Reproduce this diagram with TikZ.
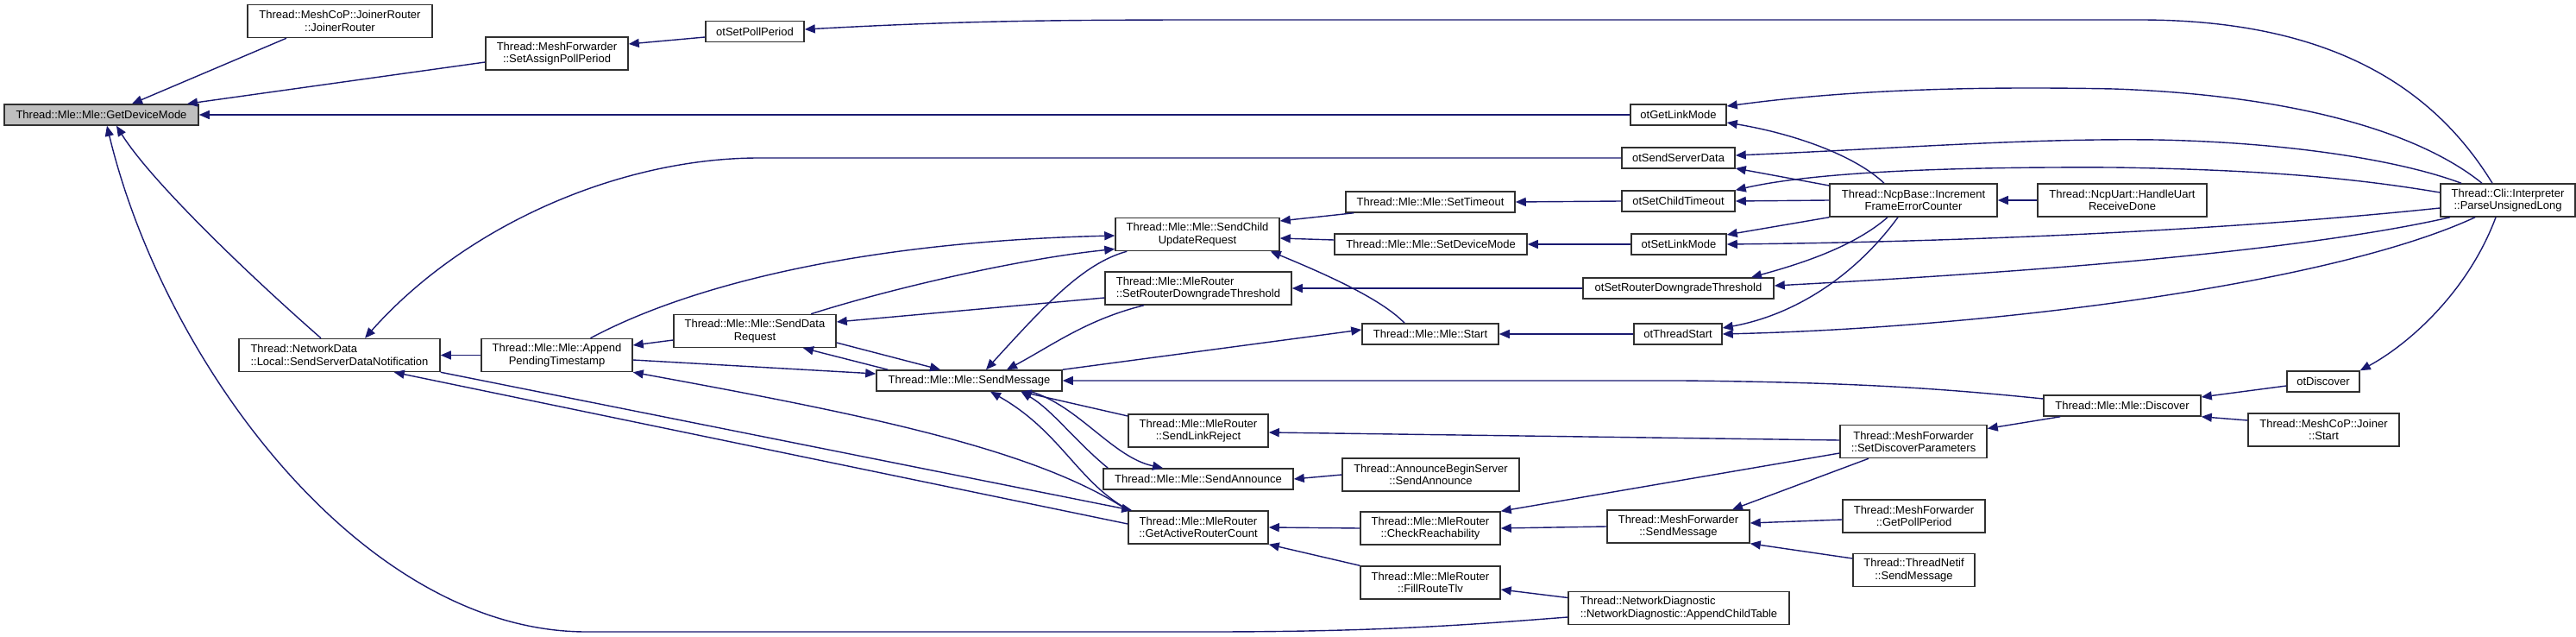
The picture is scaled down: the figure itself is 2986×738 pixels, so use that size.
\documentclass[tikz,border=0pt]{standalone}
\usepackage{fontspec}
\setmainfont{Liberation Sans}
\usetikzlibrary{arrows.meta}
\definecolor{edgec}{HTML}{191970}
\definecolor{boxc}{HTML}{303030}
\definecolor{gdmfill}{HTML}{BFBFBF}
\begin{document}
\begin{tikzpicture}[x=1pt,y=-1pt,
  >={Triangle[length=12pt,width=10pt]},
  box/.style={draw=boxc,line width=1.5pt,fill=white,inner sep=0pt,align=center,
    font=\fontsize{13}{14.3}\selectfont},
  sgl/.style={box,minimum height=24pt},
  dbl/.style={box,minimum height=38pt},
  edge/.style={draw=edgec,line width=1.4pt,<-}]
\useasboundingbox (0,0) rectangle (2986,738);

% nodes
\node[sgl,fill=gdmfill,minimum width=225pt] (gdm) at (117.5,133) {Thread::Mle::Mle::GetDeviceMode};
\node[dbl,minimum width=214pt] (jr) at (394,24.5) {Thread::MeshCoP::JoinerRouter\\::JoinerRouter};
\node[dbl,minimum width=165pt] (sapp) at (645.5,62) {Thread::MeshForwarder\\::SetAssignPollPeriod};
\node[sgl,minimum width=114pt] (ospp) at (875,36.5) {otSetPollPeriod};
\node[dbl,minimum width=233pt,align=left] (ssdn) at (393.5,411.5) {Thread::NetworkData\\::Local::SendServerDataNotification};
\node[dbl,minimum width=175pt] (apt) at (645.5,411.5) {Thread::Mle::Mle::Append\\PendingTimestamp};
\node[dbl,minimum width=188pt] (sdr) at (875,383.5) {Thread::Mle::Mle::SendData\\Request};
\node[dbl,minimum width=190pt] (scur) at (1388,271.5) {Thread::Mle::Mle::SendChild\\UpdateRequest};
\node[dbl,minimum width=216pt,align=left] (srdt) at (1389,334) {Thread::Mle::MleRouter\\::SetRouterDowngradeThreshold};
\node[sgl,minimum width=215pt] (sm) at (1123.5,441) {Thread::Mle::Mle::SendMessage};
\node[sgl,minimum width=196pt] (st) at (1658,234) {Thread::Mle::Mle::SetTimeout};
\node[sgl,minimum width=223pt] (sdm) at (1658.5,283) {Thread::Mle::Mle::SetDeviceMode};
\node[sgl,minimum width=158pt] (start) at (1658,387) {Thread::Mle::Mle::Start};
\node[dbl,minimum width=162pt] (slr) at (1389,499) {Thread::Mle::MleRouter\\::SendLinkReject};
\node[sgl,minimum width=220pt] (sa) at (1389,555) {Thread::Mle::Mle::SendAnnounce};
\node[dbl,minimum width=162pt] (garc) at (1389,611) {Thread::Mle::MleRouter\\::GetActiveRouterCount};
\node[dbl,minimum width=205pt] (abs) at (1658.5,550) {Thread::AnnounceBeginServer\\::SendAnnounce};
\node[dbl,minimum width=162pt] (cr) at (1658,612) {Thread::Mle::MleRouter\\::CheckReachability};
\node[dbl,minimum width=162pt] (frt) at (1658,675) {Thread::Mle::MleRouter\\::FillRouteTlv};
\node[sgl,minimum width=111pt] (ogl) at (1945.5,133) {otGetLinkMode};
\node[sgl,minimum width=131pt] (ossd) at (1945.5,183) {otSendServerData};
\node[sgl,minimum width=131pt] (osct) at (1945.5,233) {otSetChildTimeout};
\node[sgl,minimum width=110pt] (osl) at (1946,283) {otSetLinkMode};
\node[sgl,minimum width=221pt] (osrdt) at (1945.5,334) {otSetRouterDowngradeThreshold};
\node[sgl,minimum width=102pt] (ots) at (1945,387) {otThreadStart};
\node[dbl,minimum width=165pt] (mfsm) at (1945.5,610) {Thread::MeshForwarder\\::SendMessage};
\node[dbl,minimum width=256pt,align=left] (act) at (1946,704.5) {Thread::NetworkDiagnostic\\::NetworkDiagnostic::AppendChildTable};
\node[dbl,minimum width=194pt] (ifec) at (2218,232) {Thread::NcpBase::Increment\\FrameErrorCounter};
\node[dbl,minimum width=170pt] (sdp) at (2218,511.5) {Thread::MeshForwarder\\::SetDiscoverParameters};
\node[dbl,minimum width=165pt] (gpp) at (2218.5,598) {Thread::MeshForwarder\\::GetPollPeriod};
\node[dbl,minimum width=141pt] (tnsm) at (2218.5,660.5) {Thread::ThreadNetif\\::SendMessage};
\node[dbl,minimum width=196pt] (hurd) at (2460,232) {Thread::NcpUart::HandleUart\\ReceiveDone};
\node[sgl,minimum width=182pt] (disc) at (2460,470) {Thread::Mle::Mle::Discover};
\node[sgl,minimum width=84pt] (odisc) at (2693,442) {otDiscover};
\node[dbl,minimum width=175pt] (js) at (2693.5,498) {Thread::MeshCoP::Joiner\\::Start};
\node[dbl,minimum width=156pt] (pul) at (2907,232) {Thread::Cli::Interpreter\\::ParseUnsignedLong};

% edges (arrow head at the first end)
\draw[edge] ([xshift=35.5pt]gdm.north) -- ([xshift=-62pt]jr.south);
\draw[edge] ([xshift=99.5pt]gdm.north) -- ([yshift=-10pt]sapp.west);
\draw[edge] ([yshift=11pt]sapp.east) -- ([yshift=-6.5pt]ospp.west);
\draw[edge] ([yshift=2.5pt]ospp.east) .. controls (1100,25) and (1200,23) .. (1400,23) -- (2480,23) .. controls (2700,23) and (2820,100) .. ([xshift=-18pt]pul.north);
\draw[edge] (gdm.east) -- (ogl.west);
\draw[edge] ([xshift=17.5pt]gdm.south) .. controls (175,210) and (290,320) .. ([xshift=-21.5pt]ssdn.north);
\draw[edge] ([xshift=6.5pt]gdm.south) .. controls (190,420) and (420,732) .. (680,732) -- (1400,732) .. controls (1600,732) and (1700,724) .. ([yshift=-10.5pt]act.west);
\draw[edge] ([yshift=10pt]ogl.east) .. controls (2150,103) and (2300,100) .. (2450,103) .. controls (2650,110) and (2800,150) .. ([xshift=-30pt]pul.north);
\draw[edge] ([yshift=-9pt]ogl.east) .. controls (2080,155) and (2150,180) .. ([xshift=-34pt]ifec.north);
\draw[edge] ([xshift=29.5pt]ssdn.north) .. controls (540,260) and (720,183) .. (880,183) -- (ossd.west);
\draw[edge] ([yshift=3pt]ossd.east) .. controls (2200,172) and (2350,160) .. (2500,162) .. controls (2650,165) and (2780,185) .. ([xshift=-54pt]pul.north);
\draw[edge] ([yshift=-12pt]ossd.east) -- ([yshift=17pt]ifec.west);
\draw[edge] (osct.north east) .. controls (2100,200) and (2250,193) .. (2450,194) .. controls (2650,197) and (2750,210) .. ([yshift=9pt]pul.west);
\draw[edge] (osct.east) -- (ifec.west);
\draw[edge] (ifec.east) -- (hurd.west);
\draw[edge] ([yshift=11pt]osl.east) -- (ifec.south west);
\draw[edge] (osl.east) .. controls (2300,280) and (2600,265) .. ([yshift=-9pt]pul.west);
\draw[edge] ([xshift=84.5pt]osrdt.north) .. controls (2090,305) and (2150,285) .. ([xshift=-30pt]ifec.south);
\draw[edge] ([yshift=3pt]osrdt.east) .. controls (2300,318) and (2650,295) .. ([xshift=-67pt]pul.south);
\draw[edge] ([yshift=7pt]ots.east) .. controls (2080,365) and (2150,320) .. ([xshift=-18pt]ifec.south);
\draw[edge] (ots.east) .. controls (2300,380) and (2700,330) .. ([xshift=-38pt]pul.south);
\draw[edge] (odisc.north east) .. controls (2790,400) and (2860,340) .. ([xshift=-14pt]pul.south);
\draw[edge] (st.east) -- (osct.west);
\draw[edge] (sdm.east) -- (osl.west);
\draw[edge] (srdt.east) -- (osrdt.west);
\draw[edge] (start.east) -- (ots.west);
\draw[edge] ([yshift=15.5pt]scur.east) -- ([xshift=10pt]st.south west);
\draw[edge] ([yshift=-4.5pt]scur.east) -- ([yshift=5pt]sdm.west);
\draw[edge] ([xshift=-11pt]scur.south east) .. controls (1530,315) and (1600,345) .. ([xshift=-30pt]start.north);
\draw[edge] ([yshift=-1.5pt]scur.west) .. controls (1000,280) and (800,330) .. ([xshift=39pt]apt.north);
\draw[edge] ([yshift=-17pt]scur.west) .. controls (1180,300) and (1030,335) .. ([xshift=65pt]sdr.north);
\draw[edge] ([yshift=10.5pt]sdr.east) -- ([yshift=-11pt]srdt.west);
\draw[edge] ([yshift=11.5pt]apt.east) -- ([yshift=-10.5pt]sdr.west);
\draw[edge] ([xshift=-33.5pt]sm.north) -- ([yshift=-13.5pt]sdr.east);
\draw[edge] ([xshift=56pt]sdr.south) -- ([xshift=14pt]sm.north west);
\draw[edge] ([yshift=8pt]sm.west) -- ([yshift=-5.5pt]apt.east);
\draw[edge] ([xshift=19.5pt]sm.north) .. controls (1210,355) and (1255,305) .. ([xshift=14pt]scur.south west);
\draw[edge] ([xshift=43.5pt]sm.north) .. controls (1220,400) and (1260,370) .. ([xshift=-63pt]srdt.south);
\draw[edge] ([yshift=5pt]start.west) -- (sm.north east);
\draw[edge] (sm.east) -- (1950,441) .. controls (2150,443) and (2250,450) .. ([yshift=8pt]disc.west);
\draw[edge] ([xshift=24.5pt]sm.south) .. controls (1230,500) and (1250,560) .. ([xshift=2pt]garc.north west);
\draw[edge] ([xshift=60pt]sm.south) -- ([yshift=17pt]slr.west);
\draw[edge] ([xshift=60pt]sm.south) .. controls (1220,475) and (1245,510) .. ([xshift=6pt]sa.north west);
\draw[edge] ([xshift=-41pt]sa.north) .. controls (1290,530) and (1250,470) .. ([xshift=71.5pt]sm.south);
\draw[edge] ([xshift=5pt]garc.north west) -- (ssdn.south east);
\draw[edge] ([xshift=-54pt]ssdn.south east) -- ([yshift=4pt]garc.west);
\draw[edge] (apt.south east) .. controls (1000,480) and (1200,520) .. (garc.north west);
\draw[edge] (garc.east) -- (cr.west);
\draw[edge] (garc.south east) -- (frt.north west);
\draw[edge] (sa.east) -- (abs.west);
\draw[edge] ([yshift=-2pt]slr.east) -- ([yshift=1.5pt]sdp.west);
\draw[edge] (cr.north east) -- ([yshift=-13.5pt]sdp.west);
\draw[edge] (cr.east) -- (mfsm.west);
\draw[edge] ([xshift=62.5pt]mfsm.north) -- ([xshift=-52pt]sdp.south);
\draw[edge] ([yshift=4pt]mfsm.east) -- ([yshift=-4pt]gpp.west);
\draw[edge] (mfsm.south east) -- ([yshift=13.5pt]tnsm.west);
\draw[edge] ([yshift=-8pt]frt.east) -- ([yshift=12pt]act.west);
\draw[edge] ([yshift=15pt]sdp.east) -- ([xshift=20pt]disc.south west);
\draw[edge] ([yshift=10pt]disc.east) -- ([yshift=-5pt]odisc.west);
\draw[edge] (disc.south east) -- ([yshift=11pt]js.west);
\draw[edge] (ssdn.east) -- (apt.west);
\end{tikzpicture}
\end{document}
